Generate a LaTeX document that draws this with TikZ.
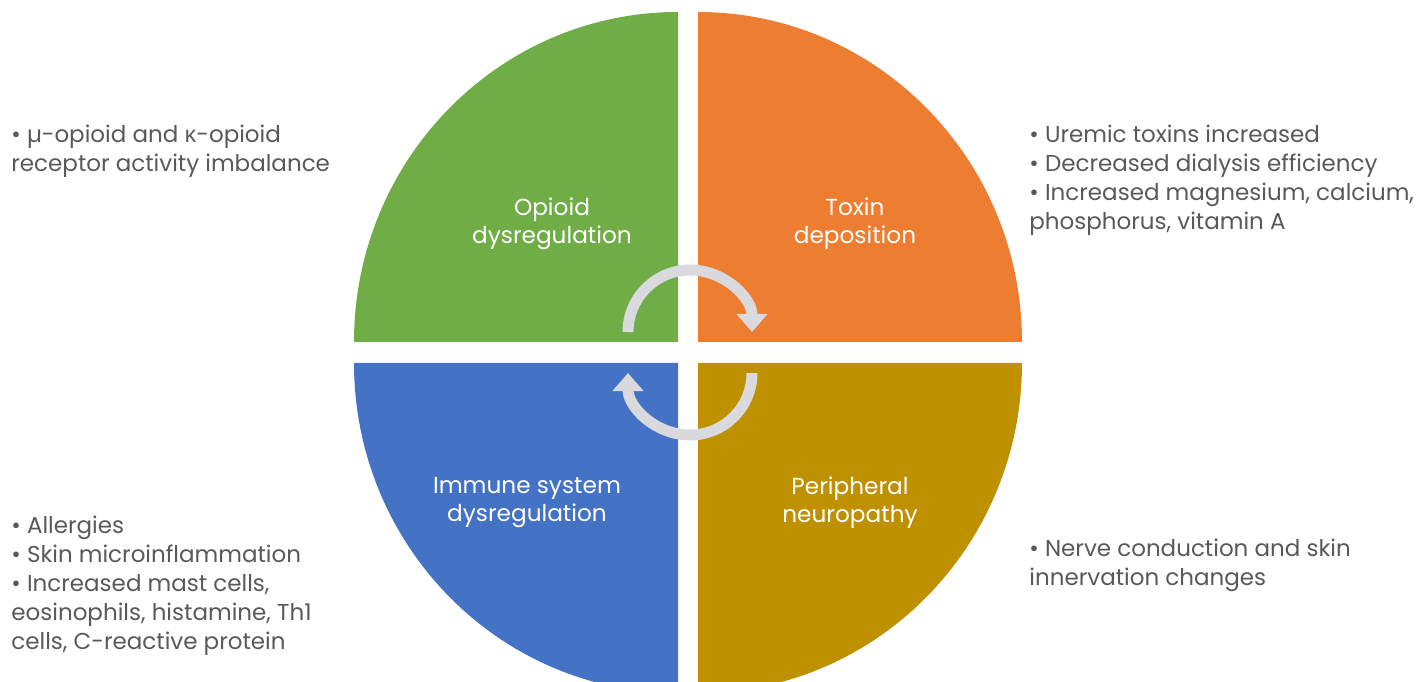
\documentclass[tikz,border=0pt]{standalone}
\usepackage{fontspec}
\setmainfont{Poppins}
\newfontfamily\grkfont{Open Sans}
\usetikzlibrary{arrows.meta}

\definecolor{opgreen}{RGB}{112, 173, 71}
\definecolor{toxorange}{RGB}{237, 125, 49}
\definecolor{immblue}{RGB}{68, 114, 196}
\definecolor{neugold}{RGB}{191, 144, 0}
\definecolor{cycgray}{RGB}{218, 217, 222}
\definecolor{notegray}{RGB}{89, 89, 89}

\begin{document}
\begin{tikzpicture}[
  x=0.5pt, y=0.5pt,
  quad/.style={text=white, align=center, font=\fontsize{11.6}{14}\selectfont},
  note/.style={text=notegray, align=left, inner sep=0pt, anchor=west, font=\fontsize{11.5}{14.5}\selectfont},
  cyc/.style={cycgray, line width=5.5pt, -{Triangle[width=15pt, length=9pt]}}
]
  \useasboundingbox (0,0) rectangle (1419,681);
  \clip (0,0) rectangle (1419,681);

  % Quarter pieces
  \fill[opgreen] (678,339) -- ++(-324,0) arc[start angle=180, end angle=90, x radius=324, y radius=330] -- cycle;
  \fill[toxorange] (698,339) -- ++(0,330) arc[start angle=90, end angle=0, x radius=324, y radius=330] -- cycle;
  \fill[immblue] (678,318) -- ++(-324,0) arc[start angle=180, end angle=270, x radius=324, y radius=330] -- cycle;
  \fill[neugold] (698,318) -- ++(324,0) arc[start angle=0, end angle=-90, x radius=324, y radius=330] -- cycle;

  \node[quad] (opioid) at (552,457) {Opioid\\dysregulation};
  \node[quad] (toxin) at (855,457) {Toxin\\deposition};
  \node[quad] (immune) at (527,178) {Immune system\\dysregulation};
  \node[quad] (neuro) at (850,178) {Peripheral\\neuropathy};

  % Cycle arrows
  \coordinate (topc) at (690,349);
  \coordinate (botc) at (690,308);
  \draw[cyc] (topc) ++(-62,0) arc[start angle=180, end angle=0, radius=62];
  \draw[cyc] (botc) ++(62,0) arc[start angle=0, end angle=-180, radius=62];

  % Side notes
  \node[note] (opnote) at (11,529.5) {• µ-opioid and {\grkfont κ}-opioid\\receptor activity imbalance};
  \node[note] (toxnote) at (1029,500.5) {• Uremic toxins increased\\• Decreased dialysis efficiency\\• Increased magnesium, calcium,\\phosphorus, vitamin A};
  \node[note] (immnote) at (11,95) {• Allergies\\• Skin microinflammation\\• Increased mast cells,\\eosinophils, histamine, Th1\\cells, C-reactive protein};
  \node[note] (neunote) at (1029,115.5) {• Nerve conduction and skin\\innervation changes};
\end{tikzpicture}
\end{document}
